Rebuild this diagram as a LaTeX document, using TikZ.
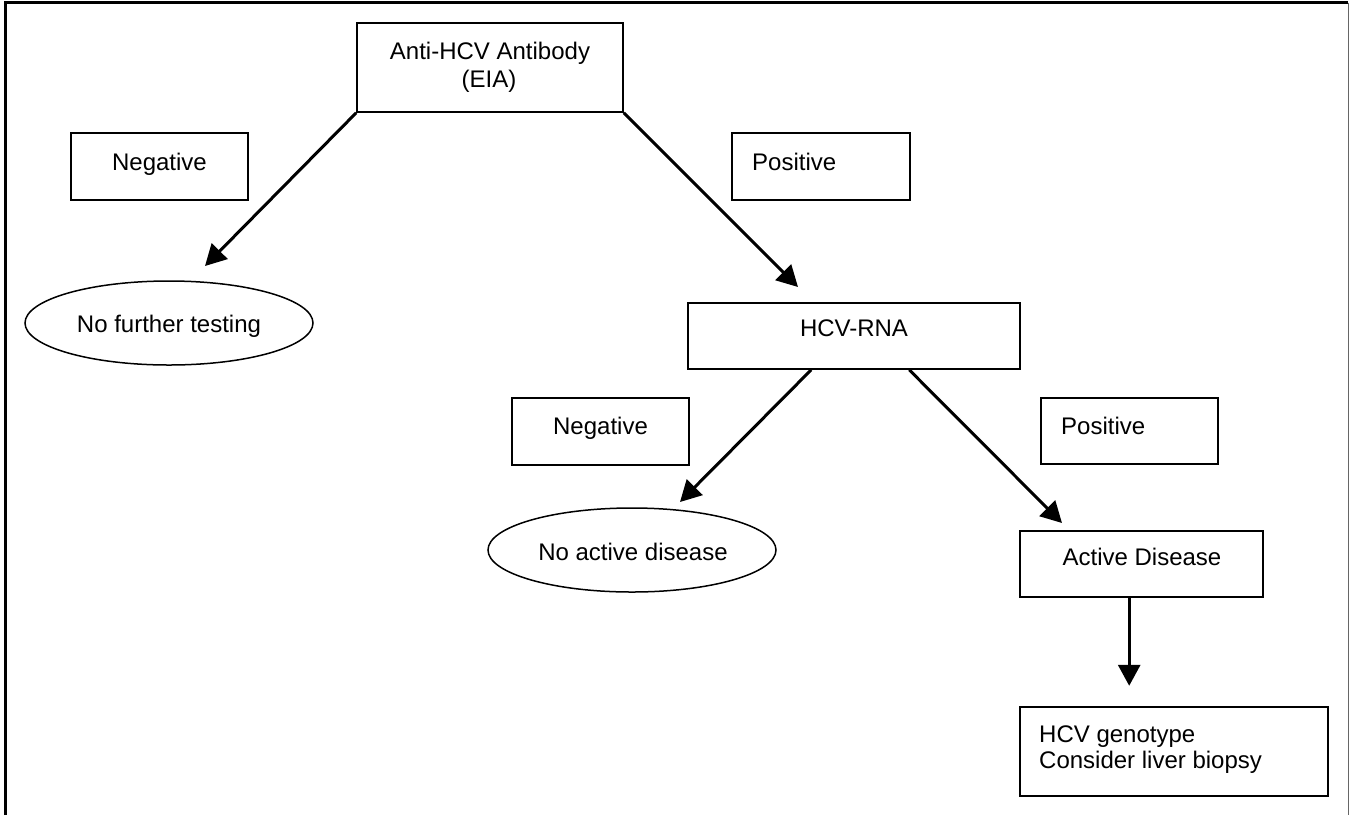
\documentclass[tikz,border=0pt]{standalone}
\usepackage{fontspec}
\setmainfont{Liberation Sans}
\usetikzlibrary{arrows.meta,shapes.geometric,calc}
\begin{document}
\begin{tikzpicture}[x=1pt,y=-1pt,
  box/.style={draw=black,line width=1.6pt,inner sep=0pt,rectangle},
  oval/.style={draw=black,line width=1.5pt,ellipse,inner sep=0pt,minimum width=288pt,minimum height=84pt},
  txt/.style={inner sep=0pt,font=\fontsize{24pt}{27pt}\selectfont},
  arr/.style={line width=3pt,-{Triangle[length=21pt,width=22pt]}},
]
\useasboundingbox (0,0) rectangle (1349,815);
\fill[white] (0,0) rectangle (1349,815);
% frame
\draw[line width=2.5pt,black] (5.5,815) -- (5.5,2.7) -- (1348,2.7);
\draw[line width=1pt,black!60] (1348,2.7) -- (1348,815);

% boxes
\node[box,minimum width=266pt,minimum height=89pt] (top) at (490,67.5) {};
\node[box,minimum width=177pt,minimum height=67pt] (neg1) at (159.5,166.5) {};
\node[box,minimum width=178pt,minimum height=67pt] (pos1) at (821,166.5) {};
\node[box,minimum width=332pt,minimum height=66pt] (rna) at (854,336) {};
\node[box,minimum width=177pt,minimum height=67pt] (neg2) at (600.5,431.5) {};
\node[box,minimum width=177pt,minimum height=66pt] (pos2) at (1129.5,431) {};
\node[box,minimum width=243pt,minimum height=66pt] (active) at (1141.5,564) {};
\node[box,minimum width=308pt,minimum height=89pt] (geno) at (1174,751.5) {};
\node[oval] (ell1) at (169,323) {};
\node[oval] (ell2) at (632,550) {};

% texts
\node[txt,anchor=base] (toptxa) at (490,59.5) {Anti-HCV Antibody};
\node[txt,anchor=base] (toptxb) at (489,87) {(EIA)};
\node[txt,anchor=base] (neg1tx) at (159.5,170) {Negative};
\node[txt,anchor=base west] (pos1tx) at (752,170) {Positive};
\node[txt,anchor=base] (ell1tx) at (169,332) {No further testing};
\node[txt,anchor=base] (rnatx) at (854,336) {HCV-RNA};
\node[txt,anchor=base] (neg2tx) at (600.5,434) {Negative};
\node[txt,anchor=base west] (pos2tx) at (1061,434) {Positive};
\node[txt,anchor=base] (ell2tx) at (633,560) {No active disease};
\node[txt,anchor=base] (activetx) at (1142,565) {Active Disease};
\node[txt,anchor=base west] (genotxa) at (1039,742) {HCV genotype};
\node[txt,anchor=base west] (genotxb) at (1039,768) {Consider liver biopsy};

% arrow ends
\coordinate (tip1) at (205,266);
\coordinate (tip2) at (798,287);
\coordinate (r1) at ($(rna.south west)+(124,0)$);
\coordinate (r2) at ($(rna.south west)+(222,0)$);
\coordinate (tip3) at (680,502);
\coordinate (tip4) at (1062,523);
\coordinate (a1) at ($(active.south west)+(110,0)$);
\coordinate (tip5) at ($(a1)+(0,88)$);

\draw[arr] (top.south west) -- (tip1);
\draw[arr] (top.south east) -- (tip2);
\draw[arr] (r1) -- (tip3);
\draw[arr] (r2) -- (tip4);
\draw[arr] (a1) -- (tip5);
\end{tikzpicture}
\end{document}
